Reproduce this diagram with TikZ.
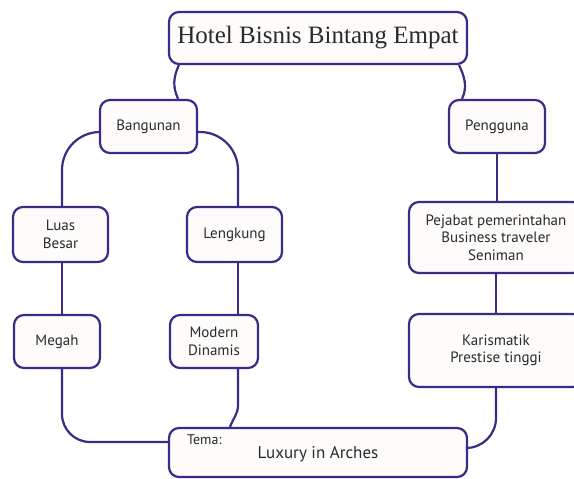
\documentclass[tikz,border=0pt]{standalone}
\usepackage{fontspec}
\setmainfont{PT Sans}
\newfontfamily\titlefont{Liberation Serif}
\definecolor{linepurple}{HTML}{3D2A86}
\definecolor{boxfill}{HTML}{FDFCFB}
\definecolor{txt}{HTML}{2A2A2A}
\begin{document}
\begin{tikzpicture}[x=1pt,y=1pt,font=\fontsize{15}{17.5}\selectfont,text=txt,
  box/.style={draw=linepurple,line width=2.2pt,fill=boxfill,rounded corners=10pt,align=center,inner sep=2pt},
  link/.style={draw=linepurple,line width=2.2pt}]
\clip(0,0)rectangle(574,-479);
\fill[white](0,0)rectangle(574,-479);
% boxes
\node[box,minimum width=298pt,minimum height=52pt,font=\titlefont\fontsize{25}{28}\selectfont](title)at(318,-38){Hotel Bisnis Bintang Empat};
\node[box,minimum width=97pt,minimum height=53pt](bang)at(148.5,-126.5){Bangunan};
\node[box,minimum width=96pt,minimum height=53pt](peng)at(497,-126.5){Pengguna};
\node[box,minimum width=95pt,minimum height=55pt](luas)at(60.5,-234.5){Luas\\Besar};
\node[box,minimum width=95pt,minimum height=55pt](lengk)at(234.5,-234.5){Lengkung};
\node[box,minimum width=86pt,minimum height=53pt](megah)at(57,-341.5){Megah};
\node[box,minimum width=88pt,minimum height=53pt](modern)at(214,-341.5){Modern\\Dinamis};
\node[box,minimum width=174pt,minimum height=71pt](pejabat)at(496,-237.5){Pejabat pemerintahan\\Business traveler\\Seniman};
\node[box,minimum width=174pt,minimum height=73pt](karis)at(496,-350.5){Karismatik\\Prestise tinggi};
\node[box,minimum width=298pt,minimum height=49pt,font=\fontsize{17}{20}\selectfont,text depth=-9pt](tema)at(318,-452.5){Luxury in Arches};
\node[anchor=north west,inner sep=0pt,font=\fontsize{14}{16}\selectfont](temalbl)at([xshift=19pt,yshift=-8pt]tema.north west){Tema:};
% connectors
\draw[link]([xshift=11pt]title.south west)to[out=-115,in=115]([xshift=-20pt]bang.north east);
\draw[link]([xshift=-9pt]title.south east)to[out=-65,in=65]([xshift=-35pt]peng.north);
\draw[link,rounded corners=38pt]([yshift=-5.5pt]bang.west)-|([xshift=1.5pt]luas.north);
\draw[link,rounded corners=38pt]([yshift=-5.5pt]bang.east)-|([xshift=3.5pt]lengk.north);
\draw[link]([xshift=1.5pt]luas.south)--([xshift=1.5pt]luas.south|-megah.north);
\draw[link]([xshift=3.5pt]lengk.south)--([xshift=3.5pt]lengk.south|-modern.north);
\draw[link,rounded corners=28pt]([xshift=5pt]megah.south)|-([yshift=10.5pt]tema.west);
\draw[link]([xshift=24pt]modern.south)--++(0,-36)to[out=-90,in=70]([xshift=-88pt]tema.north);
\draw[link](peng.south)--(peng.south|-pejabat.north);
\draw[link](pejabat.south)--(pejabat.south|-karis.north);
\draw[link,rounded corners=30pt](karis.south)|-([yshift=4.5pt]tema.east);
\end{tikzpicture}
\end{document}
